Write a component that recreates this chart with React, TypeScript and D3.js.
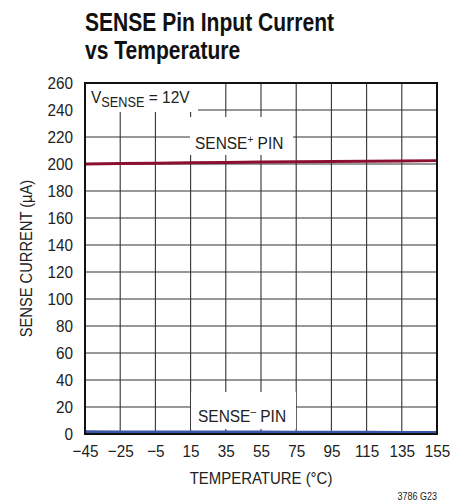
import React, { useEffect, useRef } from "react";
import * as d3 from "d3";

const width = 469;
const height = 504;
const margin = { top: 83, right: 32, bottom: 70, left: 85 };

// temperature (°C)
const temps = [-45, -25, -5, 15, 35, 55, 75, 95, 115, 135, 155];
// SENSE+ pin current (µA)
const sensePlus = [200.0, 200.3, 200.6, 200.9, 201.1, 201.4, 201.7, 201.9, 202.1, 202.3, 202.5];
// SENSE- pin current (µA)
const senseMinus = [1.6, 1.5, 1.5, 1.4, 1.4, 1.4, 1.3, 1.3, 1.3, 1.2, 1.2];
const yTicks = [0, 20, 40, 60, 80, 100, 120, 140, 160, 180, 200, 220, 240, 260];

const font = "'Liberation Sans', Arial, sans-serif";
const sx = 0.9; // squeeze to mimic a condensed face

const App = () => {
  const ref = useRef<SVGSVGElement>(null);

  useEffect(() => {
    const svg = d3.select(ref.current);
    svg.selectAll("*").remove();

    const x = d3.scaleLinear().domain([-45, 155]).range([margin.left, width - margin.right]);
    const y = d3.scaleLinear().domain([0, 260]).range([height - margin.bottom, margin.top]);

    // grid
    const grid = svg.append("g").attr("stroke", "#333").attr("stroke-width", 1.1);
    grid.selectAll(".vx").data(temps.slice(1, -1)).join("line")
      .attr("x1", d => x(d)).attr("x2", d => x(d))
      .attr("y1", y(0)).attr("y2", y(260));
    grid.selectAll(".hy").data(yTicks.slice(1, -1)).join("line")
      .attr("x1", x(-45)).attr("x2", x(155))
      .attr("y1", d => y(d)).attr("y2", d => y(d));

    // label boxes that mask the grid
    const masks = [
      [x(-45), y(260), 113, 29],
      [190, 117, 103, 38],
      [191, 392, 105, 37],
    ];
    svg.append("g").selectAll("rect").data(masks).join("rect")
      .attr("x", d => d[0]).attr("y", d => d[1])
      .attr("width", d => d[2]).attr("height", d => d[3])
      .attr("fill", "white");

    const line = d3.line<number>().x((_, i) => x(temps[i])).y(d => y(d));
    svg.append("path").attr("d", line(sensePlus)).attr("fill", "none")
      .attr("stroke", "#8c0f30").attr("stroke-width", 3);
    svg.append("path").attr("d", line(senseMinus)).attr("fill", "none")
      .attr("stroke", "#3b56a6").attr("stroke-width", 3);

    // frame
    svg.append("rect")
      .attr("x", x(-45)).attr("y", y(260))
      .attr("width", x(155) - x(-45)).attr("height", y(0) - y(260))
      .attr("fill", "none").attr("stroke", "#111").attr("stroke-width", 2);

    // axes
    const xAxis = d3.axisBottom(x).tickValues(temps).tickSize(0).tickPadding(11)
      .tickFormat(d => d3.format("")(d as number).replace("-", "\u2212"));
    const gx = svg.append("g").attr("transform", `translate(0,${y(0)})`).call(xAxis);
    gx.select(".domain").remove();
    gx.selectAll("text").attr("font-size", 17).attr("font-family", font).attr("fill", "#222")
      .attr("transform", `scale(${sx},1)`);

    const yAxis = d3.axisLeft(y).tickValues(yTicks).tickSize(0).tickPadding(12 / sx);
    const gy = svg.append("g").attr("transform", `translate(${x(-45)},0)`).call(yAxis);
    gy.select(".domain").remove();
    gy.selectAll("text").attr("font-size", 17).attr("font-family", font).attr("fill", "#222")
      .attr("transform", `scale(${sx},1)`);

    const t = svg.append("g").attr("font-family", font).attr("fill", "#222").attr("font-size", 17);
    const place = (px: number, py: number, s = sx, rot = 0) =>
      t.append("text").attr("transform", `translate(${px},${py}) rotate(${rot}) scale(${s},1)`);

    const v = place(91, 103, 0.91);
    v.append("tspan").text("V");
    v.append("tspan").attr("dy", 4).attr("font-size", 14).text("SENSE");
    v.append("tspan").attr("dy", -4).text(" = 12V");

    const sp = place(195, 149, 0.91);
    sp.append("tspan").text("SENSE");
    sp.append("tspan").attr("dy", -6).attr("font-size", 11).text("+");
    sp.append("tspan").attr("dy", 6).text(" PIN");

    const sm = place(198, 422, 0.91);
    sm.append("tspan").text("SENSE");
    sm.append("tspan").attr("dy", -7).attr("font-size", 11).text("\u2013");
    sm.append("tspan").attr("dy", 7).text(" PIN");

    place((x(-45) + x(155)) / 2, 484, 0.88)
      .attr("text-anchor", "middle").text("TEMPERATURE (°C)");

    place(32, (y(0) + y(260)) / 2, 0.865, -90)
      .attr("text-anchor", "middle").text("SENSE CURRENT (µA)");

    place(x(155), 500, 0.9).attr("text-anchor", "end")
      .attr("font-size", 10).text("3786 G23");

    const title = svg.append("g").attr("font-family", font).attr("font-weight", "bold")
      .attr("font-size", 26).attr("fill", "#111");
    title.append("text").attr("transform", "translate(85,31) scale(0.81,1)").text("SENSE Pin Input Current");
    title.append("text").attr("transform", "translate(85,59) scale(0.81,1)").text("vs Temperature");
  }, []);

  return <svg ref={ref} width={width} height={height} style={{ position: "absolute", left: 0, top: 0 }} />;
};

export default App;
